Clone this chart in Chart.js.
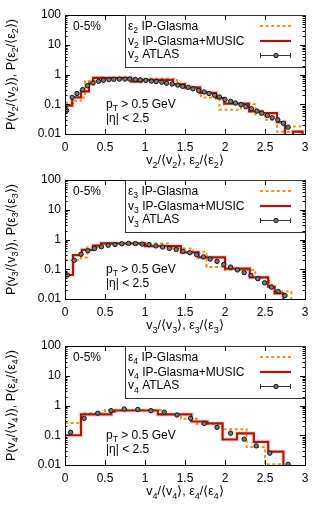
<!DOCTYPE html>
<html lang="en">
<head>
<meta charset="UTF-8">
<title>P(vn/&lt;vn&gt;) 0-5%</title>
<style>
  html, body { margin: 0; padding: 0; background: #fff; }
  body { width: 327px; height: 515px; position: relative; overflow: hidden; }
  canvas { position: absolute; left: 0; }
  #c2 { top: 0; }
  #c3 { top: 165px; }
  #c4 { top: 331px; }
</style>
</head>
<body>
<canvas id="c2" width="327" height="172"></canvas>
<canvas id="c3" width="327" height="172"></canvas>
<canvas id="c4" width="327" height="184"></canvas>

<script src="https://cdn.jsdelivr.net/npm/chart.js"></script>
<script>
// ticks
const xTicks = [0, 0.5, 1, 1.5, 2, 2.5, 3];
const yTicks = [0.01, 0.1, 1, 10, 100];

// n = 2 : histogram edges + bin values (0.001 = off scale)
const eps2Edges = [0, 0.1, 0.2, 0.25, 0.4, 0.5, 0.9, 1.0, 1.4, 1.5, 1.7, 1.93, 2.2, 2.38, 2.5, 2.65, 2.8, 2.94, 2.95];
const eps2Vals  = [0.11, 0.13, 0.17, 0.6, 0.8, 0.75, 0.7, 0.72, 0.5, 0.34, 0.17, 0.065, 0.1, 0.045, 0.03, 0.012, 0.018, 0.001];
const v2Edges = [0, 0.09, 0.2, 0.3, 0.35, 0.83, 0.96, 1.35, 1.5, 1.69, 1.89, 1.99, 2.3, 2.47, 2.65, 2.75, 2.85, 2.97, 2.98];
const v2Vals  = [0.09, 0.17, 0.27, 0.5, 0.77, 0.58, 0.66, 0.47, 0.37, 0.24, 0.16, 0.105, 0.058, 0.05, 0.025, 0.001, 0.012, 0.001];
const atlas2X = [0.02, 0.09, 0.15, 0.22, 0.28, 0.35, 0.42, 0.48, 0.55, 0.61, 0.68, 0.75, 0.81, 0.88, 0.94, 1.01, 1.08, 1.14, 1.21, 1.27, 1.34, 1.41, 1.47, 1.54, 1.6, 1.67, 1.74, 1.8, 1.87, 1.93, 2.0, 2.07, 2.13, 2.2, 2.26, 2.33, 2.4, 2.46, 2.53, 2.59, 2.66, 2.73, 2.79];
const atlas2Y = [0.062, 0.17, 0.23, 0.31, 0.42, 0.52, 0.59, 0.64, 0.67, 0.69, 0.70, 0.70, 0.70, 0.68, 0.66, 0.63, 0.60, 0.58, 0.55, 0.51, 0.48, 0.44, 0.40, 0.37, 0.33, 0.29, 0.26, 0.23, 0.20, 0.175, 0.145, 0.125, 0.11, 0.097, 0.083, 0.071, 0.059, 0.05, 0.042, 0.035, 0.03, 0.023, 0.017];

// n = 3
const eps3Edges = [0, 0.2, 0.28, 0.45, 1.3, 1.6, 1.77, 2.0, 2.38, 2.55, 2.62, 2.83, 2.84];
const eps3Vals  = [0.2, 0.25, 0.55, 0.74, 0.5, 0.39, 0.12, 0.095, 0.052, 0.03, 0.018, 0.001];
const v3Edges = [0, 0.1, 0.21, 0.35, 0.45, 1.0, 1.45, 1.67, 2.0, 2.31, 2.54, 2.62, 2.73, 2.74];
const v3Vals  = [0.064, 0.3, 0.45, 0.62, 0.74, 0.6, 0.37, 0.25, 0.105, 0.053, 0.026, 0.0155, 0.001];
const atlas3X = [0.03, 0.115, 0.2, 0.285, 0.37, 0.455, 0.54, 0.625, 0.71, 0.795, 0.88, 0.965, 1.05, 1.135, 1.22, 1.305, 1.39, 1.475, 1.56, 1.645, 1.73, 1.815, 1.9, 1.985, 2.07, 2.155, 2.24, 2.325, 2.41, 2.495, 2.58, 2.665, 2.75];
const atlas3Y = [0.064, 0.2, 0.32, 0.42, 0.5, 0.57, 0.64, 0.68, 0.72, 0.74, 0.73, 0.70, 0.67, 0.61, 0.56, 0.5, 0.46, 0.40, 0.36, 0.31, 0.26, 0.22, 0.185, 0.145, 0.118, 0.095, 0.077, 0.062, 0.048, 0.035, 0.025, 0.018, 0.013];

// n = 4
const eps4Edges = [0, 0.2, 0.5, 1.2, 1.45, 1.65, 1.96, 2.27, 2.5, 2.72, 2.73];
const eps4Vals  = [0.26, 0.55, 0.7, 0.5, 0.36, 0.24, 0.16, 0.04, 0.0105, 0.001];
const v4Edges = [0, 0.2, 0.58, 0.62, 1.16, 1.58, 1.78, 1.97, 2.15, 2.36, 2.54, 2.73, 2.74];
const v4Vals  = [0.1, 0.5, 0.62, 0.68, 0.5, 0.29, 0.25, 0.072, 0.115, 0.06, 0.028, 0.001];
const atlas4X = [0.07, 0.24, 0.41, 0.575, 0.74, 0.91, 1.075, 1.24, 1.4, 1.57, 1.74, 1.9, 2.07, 2.24, 2.39, 2.56, 2.79];
const atlas4Y = [0.126, 0.37, 0.55, 0.67, 0.76, 0.74, 0.67, 0.6, 0.48, 0.37, 0.25, 0.185, 0.117, 0.074, 0.044, 0.025, 0.0105];

const FONT = "'Liberation Sans', Arial, Helvetica, sans-serif";
const RED = '#a8170b';
const ORANGE = '#f39019';
const PLOT_TOP = 15, PLOT_BOTTOM = 134;

function steps(edges, vals) {
  const pts = vals.map((v, i) => ({ x: edges[i], y: v }));
  pts.push({ x: edges[edges.length - 1], y: vals[vals.length - 1] });
  return pts;
}

// text with subscripts, y = baseline
function drawRich(ctx, parts, x, y, size, align) {
  let w = 0;
  const segs = parts.map(p => {
    const sub = p[1] === 'sub';
    const fs = sub ? size * 0.72 : size;
    ctx.font = fs + 'px ' + FONT;
    const sw = ctx.measureText(p[0]).width;
    w += sw;
    return { t: p[0], fs: fs, sw: sw, dy: sub ? size * 0.3 : 0 };
  });
  let cx = align === 'center' ? x - w / 2 : (align === 'right' ? x - w : x);
  ctx.textAlign = 'left';
  ctx.textBaseline = 'alphabetic';
  segs.forEach(s => {
    ctx.font = s.fs + 'px ' + FONT;
    ctx.fillText(s.t, cx, y + s.dy);
    cx += s.sw;
  });
}

function makeDeco(n) {
  const s = String(n);
  return {
    id: 'deco' + n,
    afterDraw(chart) {
      const ctx = chart.ctx, a = chart.chartArea;
      const xs = chart.scales.x, ys = chart.scales.y;
      ctx.save();
      ctx.strokeStyle = '#000';
      ctx.lineWidth = 1;
      ctx.setLineDash([]);
      ctx.beginPath();
      xTicks.forEach(v => {
        const px = Math.round(xs.getPixelForValue(v)) + 0.5;
        ctx.moveTo(px, a.bottom); ctx.lineTo(px, a.bottom - 5);
        ctx.moveTo(px, a.top); ctx.lineTo(px, a.top + 5);
      });
      for (let d = -2; d < 2; d++) {
        for (let m = 1; m < 10; m++) {
          const len = m === 1 ? 5 : 2.5;
          const py = Math.round(ys.getPixelForValue(m * Math.pow(10, d))) + 0.5;
          ctx.moveTo(a.left, py); ctx.lineTo(a.left + len, py);
          ctx.moveTo(a.right, py); ctx.lineTo(a.right - len, py);
        }
      }
      ctx.stroke();
      ctx.strokeRect(Math.round(a.left) + 0.5, Math.round(a.top) + 0.5,
                     Math.round(a.right - a.left), Math.round(a.bottom - a.top));

      // key box
      ctx.strokeStyle = '#333';
      ctx.strokeRect(125.5, a.top + 0.5, Math.round(a.right) - 125, 52);
      ctx.fillStyle = '#000';
      drawRich(ctx, [['ε', ''], [s, 'sub'], [' IP-Glasma', '']], 128, a.top + 14.5, 12, 'left');
      drawRich(ctx, [['v', ''], [s, 'sub'], [' IP-Glasma+MUSIC', '']], 128, a.top + 29.5, 12, 'left');
      drawRich(ctx, [['v', ''], [s, 'sub'], [' ATLAS', '']], 128, a.top + 43, 12, 'left');

      ctx.lineWidth = 2;
      ctx.strokeStyle = ORANGE;
      ctx.setLineDash([3, 2.6]);
      ctx.beginPath(); ctx.moveTo(260, a.top + 11); ctx.lineTo(291, a.top + 11); ctx.stroke();
      ctx.setLineDash([]);
      ctx.lineWidth = 2.2;
      ctx.strokeStyle = RED;
      ctx.beginPath(); ctx.moveTo(260, a.top + 26); ctx.lineTo(291, a.top + 26); ctx.stroke();
      ctx.lineWidth = 1;
      ctx.strokeStyle = '#333';
      const ly = a.top + 40.5;
      ctx.beginPath();
      ctx.moveTo(260, ly); ctx.lineTo(291, ly);
      ctx.moveTo(260.5, ly - 2.5); ctx.lineTo(260.5, ly + 2.5);
      ctx.moveTo(290.5, ly - 2.5); ctx.lineTo(290.5, ly + 2.5);
      ctx.stroke();
      ctx.beginPath(); ctx.arc(276, ly, 2.2, 0, Math.PI * 2);
      ctx.fillStyle = '#777'; ctx.fill();
      ctx.strokeStyle = '#111'; ctx.stroke();

      // labels inside the frame
      ctx.fillStyle = '#000';
      drawRich(ctx, [['0-5%', '']], 73, a.top + 15, 12, 'left');
      drawRich(ctx, [['p', ''], ['T', 'sub'], [' > 0.5 GeV', '']], 106, a.top + 92.5, 12, 'left');
      drawRich(ctx, [['|η| < 2.5', '']], 106, a.top + 106.5, 12, 'left');

      // axis titles
      const cxm = (a.left + a.right) / 2;
      drawRich(ctx, [['v', ''], [s, 'sub'], ['/⟨v', ''], [s, 'sub'], ['⟩, ε', ''], [s, 'sub'], ['/⟨ε', ''], [s, 'sub'], ['⟩', '']],
               cxm, a.bottom + 30, 12.5, 'center');
      ctx.save();
      ctx.translate(14.5, (a.top + a.bottom) / 2);
      ctx.rotate(-Math.PI / 2);
      drawRich(ctx, [['P(v', ''], [s, 'sub'], ['/⟨v', ''], [s, 'sub'], ['⟩), P(ε', ''], [s, 'sub'], ['/⟨ε', ''], [s, 'sub'], ['⟩)', '']],
               0, 0, 12.5, 'center');
      ctx.restore();
      ctx.restore();
    }
  };
}

function makeChart(id, n, epsE, epsV, vE, vV, ax, ay) {
  const c = document.getElementById(id);
  return new Chart(c, {
    type: 'line',
    data: {
      datasets: [
        { label: 'v' + n + ' ATLAS', data: ax.map((x, i) => ({ x: x, y: ay[i] })), showLine: false,
          pointRadius: 2.2, pointBackgroundColor: '#777', pointBorderColor: '#111', pointBorderWidth: 1, order: 1 },
        { label: 'v' + n + ' IP-Glasma+MUSIC', data: steps(vE, vV), stepped: true, borderColor: RED,
          borderWidth: 2.2, pointRadius: 0, fill: false, order: 2 },
        { label: 'eps' + n + ' IP-Glasma', data: steps(epsE, epsV), stepped: true, borderColor: ORANGE,
          borderWidth: 2, borderDash: [3, 2.6], pointRadius: 0, fill: false, order: 3 },
        { label: 'band', data: steps(vE, vV), stepped: true, borderColor: 'rgba(230,110,110,0.18)',
          borderWidth: 5, pointRadius: 0, fill: false, order: 4 }
      ]
    },
    options: {
      responsive: false,
      animation: false,
      devicePixelRatio: 1,
      layout: { padding: { top: PLOT_TOP, right: 22, left: 0, bottom: 0 } },
      plugins: { legend: { display: false }, tooltip: { enabled: false } },
      scales: {
        x: {
          type: 'linear', min: 0, max: 3,
          grid: { display: false, drawTicks: false }, border: { display: false },
          afterBuildTicks: s => { s.ticks = xTicks.map(v => ({ value: v })); },
          afterFit: s => { s.height = c.height - PLOT_BOTTOM; },
          ticks: { padding: 6, color: '#000', font: { family: FONT, size: 12 }, maxRotation: 0, autoSkip: false,
                   callback: v => String(v) }
        },
        y: {
          type: 'logarithmic', min: 0.01, max: 100,
          grid: { display: false, drawTicks: false }, border: { display: false },
          afterBuildTicks: s => { s.ticks = yTicks.map(v => ({ value: v })); },
          afterFit: s => { s.width = 65; },
          ticks: { padding: 4, color: '#000', font: { family: FONT, size: 12 }, autoSkip: false,
                   callback: v => String(v) }
        }
      }
    },
    plugins: [makeDeco(n)]
  });
}

makeChart('c2', 2, eps2Edges, eps2Vals, v2Edges, v2Vals, atlas2X, atlas2Y);
makeChart('c3', 3, eps3Edges, eps3Vals, v3Edges, v3Vals, atlas3X, atlas3Y);
makeChart('c4', 4, eps4Edges, eps4Vals, v4Edges, v4Vals, atlas4X, atlas4Y);
</script>
</body>
</html>
